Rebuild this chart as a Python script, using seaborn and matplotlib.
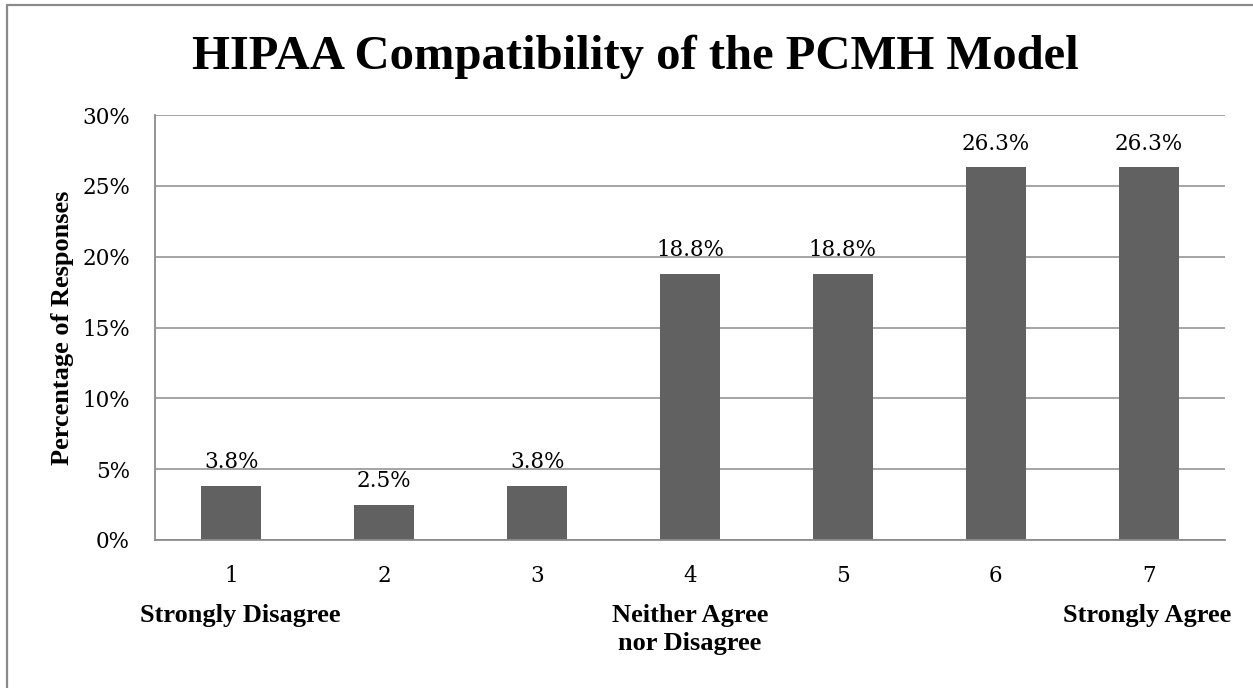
import matplotlib
matplotlib.use("Agg")
import matplotlib.pyplot as plt
import seaborn as sns
import pandas as pd
from matplotlib.ticker import FixedLocator, PercentFormatter
from matplotlib.lines import Line2D
import matplotlib.transforms as mtransforms

categories = ["1", "2", "3", "4", "5", "6", "7"]
values = [3.8, 2.5, 3.8, 18.8, 18.8, 26.3, 26.3]
value_labels = ["3.8%", "2.5%", "3.8%", "18.8%", "18.8%", "26.3%", "26.3%"]
anchor_labels = ["Strongly Disagree", "Neither Agree\nnor Disagree", "Strongly Agree"]
anchor_positions = [0, 3, 6]

sns.set_style("white")
plt.rcParams["font.family"] = ["Liberation Serif", "DejaVu Serif"]
plt.rcParams["text.color"] = "black"
plt.rcParams["axes.labelcolor"] = "black"
plt.rcParams["xtick.labelcolor"] = "black"
plt.rcParams["ytick.labelcolor"] = "black"

NUMFONT = "DejaVu Serif"
NUMSIZE = 15.5

df = pd.DataFrame({"cat": categories, "val": values})

W, H = 1253, 688
fig = plt.figure(figsize=(W / 100, H / 100), dpi=100)
ax = fig.add_axes([155 / W, 1 - 540 / H, (1225 - 155) / W, (540 - 115) / H])

sns.barplot(data=df, x="cat", y="val", color="#616161", width=0.392,
            saturation=1, ax=ax, edgecolor="none")

ax.set_xlim(-0.5, 6.5)
ax.set_ylim(0, 30)
ax.set_yticks([0, 5, 10, 15, 20, 25, 30])
ax.yaxis.set_major_formatter(PercentFormatter(decimals=0))
ax.grid(axis="y", color="#8c8c8c", linewidth=1.1)
ax.set_axisbelow(True)

for s in ["top", "right"]:
    ax.spines[s].set_visible(False)
for s in ["left", "bottom"]:
    ax.spines[s].set_color("#8c8c8c")
    ax.spines[s].set_linewidth(1.3)

ax.tick_params(axis="x", which="major", length=0, pad=18, labelcolor="black")
ax.xaxis.set_minor_locator(FixedLocator([i - 0.5 for i in range(8)]))
ax.tick_params(axis="x", which="minor", length=6, color="#8c8c8c", width=1.3)
ax.tick_params(axis="y", length=6, color="#8c8c8c", width=1.3, pad=12, labelcolor="black")
for lab in ax.get_xticklabels() + ax.get_yticklabels():
    lab.set_fontfamily(NUMFONT)
    lab.set_fontsize(NUMSIZE)
ax.set_xlabel("")
ax.set_ylabel("Percentage of Responses", fontsize=19, fontweight="bold", labelpad=6,
              color="black")

for i, (v, lab) in enumerate(zip(values, value_labels)):
    ax.text(i, v + 0.9, lab, ha="center", va="bottom", fontsize=NUMSIZE,
            family=NUMFONT, color="black")

trans = mtransforms.blended_transform_factory(ax.transData, fig.transFigure)
anchor_x_offsets = [0.06, 0.0, -0.01]
for pos, lab, off in zip(anchor_positions, anchor_labels, anchor_x_offsets):
    ax.text(pos + off, 1 - 604 / H, lab, transform=trans, ha="center", va="top",
            fontsize=19, fontweight="bold", linespacing=1.26, color="black")

fig.text(635 / W, 1 - 69 / H, "HIPAA Compatibility of the PCMH Model", ha="center",
         va="baseline", fontsize=35, fontweight="bold", color="black")

fig.lines.append(Line2D([7 / W, 7 / W], [0, 1 - 5 / H], transform=fig.transFigure,
                        color="#8a8a8a", linewidth=1.6))
fig.lines.append(Line2D([7 / W, 1], [1 - 5 / H, 1 - 5 / H], transform=fig.transFigure,
                        color="#8a8a8a", linewidth=1.6))

fig.savefig("out.png", dpi=100)
